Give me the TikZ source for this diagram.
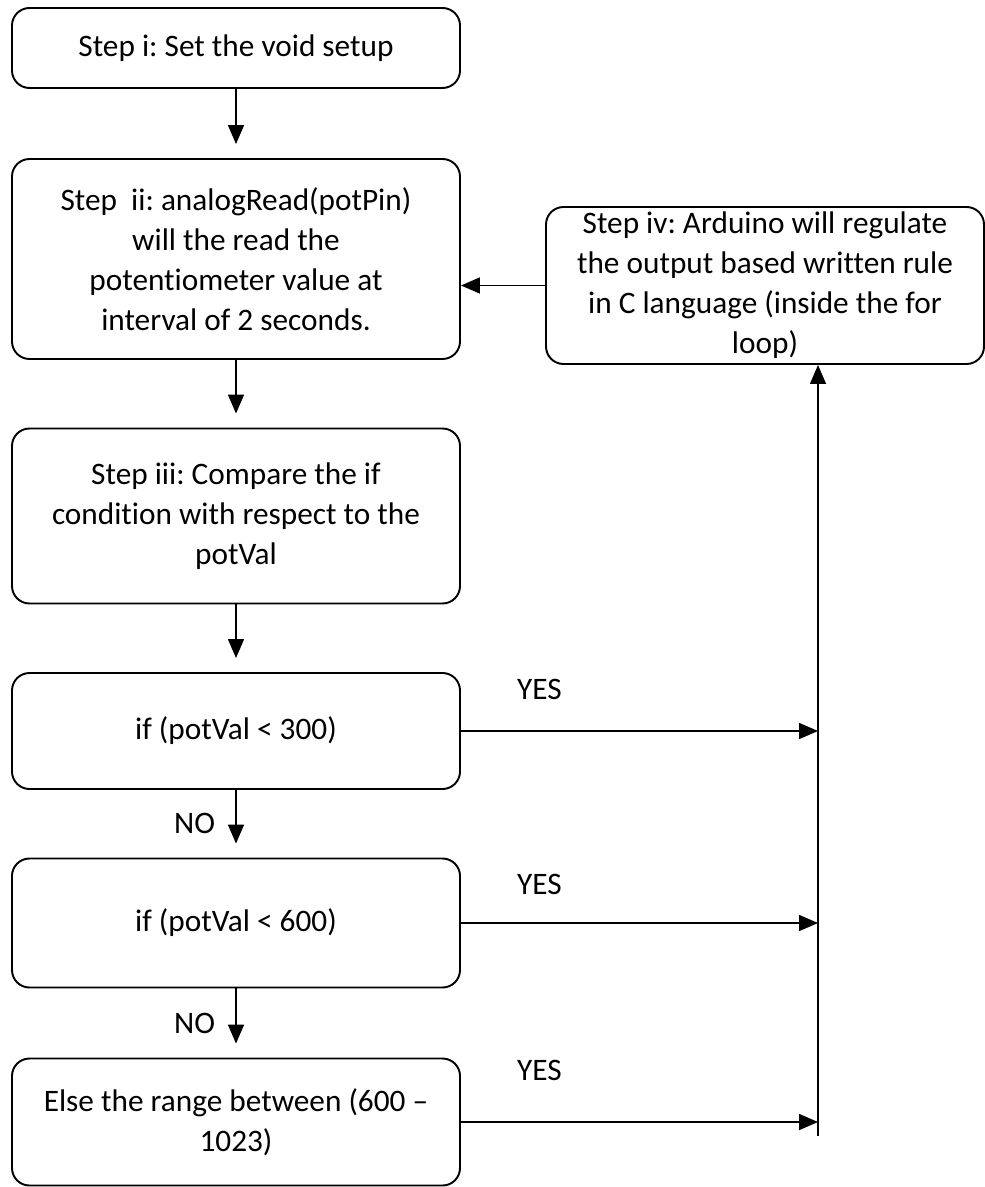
\documentclass[tikz,border=0pt]{standalone}
\usepackage{fontspec}
\setmainfont{Carlito}[Ligatures=NoCommon]
\usetikzlibrary{shapes.geometric, arrows, arrows.meta}
\tikzstyle{stepbox} = [rectangle, rounded corners=0.35cm, minimum width=8.96cm, inner ysep=0pt, align=center, draw=black, line width=1.1pt, fill=white, font=\fontsize{17.8pt}{22.8pt}\selectfont\frenchspacing]
\tikzstyle{textbox} = [inner sep=0pt, font=\fontsize{17.8pt}{22.8pt}\selectfont]
\tikzstyle{arrow} = [line width=1pt,->,>={Triangle[length=0.38cm, width=0.32cm]}]
\tikzstyle{gaparrow} = [arrow, shorten >=0.28cm]

\begin{document}
\begin{tikzpicture}[node distance=2cm]
\useasboundingbox (0,0) rectangle (19.7,-23.74);
\node (step1) [stepbox, minimum height=1.6cm] at (4.72,-0.96) {Step i: Set the void setup};
\node (step2) [stepbox, minimum height=4cm, below of=step1, yshift=-2.22cm] {Step\ \ ii: analogRead(potPin)\\will the read the\\potentiometer value at\\interval of 2 seconds.};
\node (step3) [stepbox, minimum height=3.5cm, below of=step2, yshift=-3.14cm] {Step iii: Compare the if\\condition with respect to the\\potVal};
\node (cond1) [stepbox, minimum height=2.32cm, below of=step3, yshift=-2.3cm] {if (potVal {<} 300)};
\node (cond2) [stepbox, minimum height=2.58cm, below of=cond1, yshift=-1.84cm] {if (potVal {<} 600)};
\node (cond3) [stepbox, minimum height=2.54cm, below of=cond2, yshift=-1.98cm] {Else the range between (600 --\\1023)};
\node (step4) [stepbox, minimum width=8.76cm, minimum height=3.14cm, right of=step2, xshift=8.58cm, yshift=-0.53cm] {Step iv: Arduino will regulate\\the output based written rule\\in C language (inside the for\\loop)};
\coordinate (busend) at (16.36,-22.72);
\draw [gaparrow] (step1) -- (step2);
\draw [gaparrow] (step2) -- (step3);
\draw [gaparrow] (step3) -- (cond1);
\draw [gaparrow] (cond1) -- node[textbox, anchor=east, xshift=-0.4cm, pos=0.5] {NO} (cond2);
\draw [gaparrow] (cond2) -- node[textbox, anchor=east, xshift=-0.4cm, pos=0.5] {NO} (cond3);
\draw [arrow] (step4.west) -- (step4.west -| step2.east);
\draw [line width=0.7pt,->,>={Triangle[length=0.38cm, width=0.32cm]}] (busend) -- (busend |- step4.south);
\draw [arrow] (cond1.east) -- node[textbox, pos=0.22, above, yshift=0.6cm] {YES} (cond1.east -| busend);
\draw [arrow] (cond2.east) -- node[textbox, pos=0.22, above, yshift=0.55cm] {YES} (cond2.east -| busend);
\draw [arrow] (cond3.east) -- node[textbox, pos=0.22, above, yshift=0.8cm] {YES} (cond3.east -| busend);
\end{tikzpicture}
\end{document}
